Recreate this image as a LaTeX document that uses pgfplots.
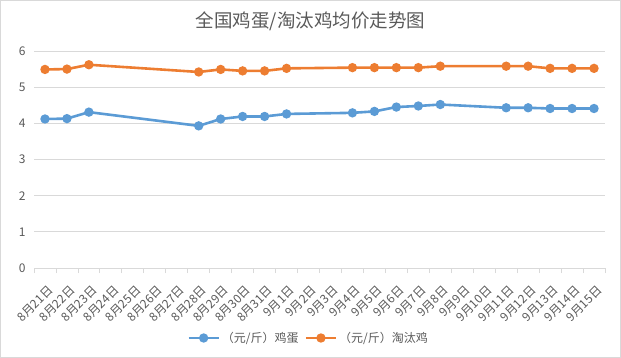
\documentclass[border=0pt]{standalone}
\usepackage{fontspec}
\setmainfont{Noto Sans CJK SC}
\usepackage{pgfplots}
\pgfplotsset{compat=1.18}
\definecolor{egg}{HTML}{5B9BD5}
\definecolor{hen}{HTML}{ED7D31}
\definecolor{gridgray}{HTML}{D9D9D9}
\definecolor{txt}{HTML}{595959}
\begin{document}
\begin{tikzpicture}
\useasboundingbox (0,0) rectangle (621bp,358bp);
\draw[gridgray, line width=0.8bp] (0.5bp,0.5bp) rectangle (620.5bp,357.5bp);
\node[text=txt, font=\fontsize{18.5bp}{22bp}\selectfont] at (310.5bp,337bp) {全国鸡蛋/淘汰鸡均价走势图};
\begin{axis}[
  at={(34bp,90bp)}, anchor=south west,
  scale only axis, width=571bp, height=217bp,
  xmin=-0.5, xmax=25.5, ymin=0, ymax=6,
  ytick={0,1,...,6},
  xtick={0,1,...,25},
  minor xtick={-0.5,0.5,...,25.5},
  xticklabels={8月21日,8月22日,8月23日,8月24日,8月25日,8月26日,8月27日,8月28日,8月29日,8月30日,8月31日,9月1日,9月2日,9月3日,9月4日,9月5日,9月6日,9月7日,9月8日,9月9日,9月10日,9月11日,9月12日,9月13日,9月14日,9月15日},
  axis x line*=bottom, axis y line*=left,
  x axis line style={draw=gridgray, line width=0.8bp, -},
  y axis line style={draw=none},
  ymajorgrids, grid style={draw=gridgray, line width=0.8bp},
  major tick length=0pt, minor tick length=5bp, tick align=outside,
  tick style={draw=gridgray, line width=0.8bp},
  /pgf/number format/assume math mode=true,
  tick label style={text=txt, font=\fontsize{12bp}{14bp}\selectfont},
  yticklabel style={xshift=-5bp},
  xticklabel style={yshift=-15bp, xshift=2bp, rotate=45, anchor=north east, inner sep=1bp},
  legend columns=2,
  legend style={draw=none, fill=none, at={(0.481,-0.3226)}, anchor=center,
    font=\fontsize{12bp}{14bp}\selectfont, text=txt,
    /tikz/every even column/.append style={column sep=4bp}},
  legend image code/.code={\draw[mark repeat=2,mark phase=2,#1] plot coordinates {(0bp,0bp) (15bp,0bp) (30bp,0bp)};},
  every axis plot/.append style={line width=2.6bp, mark=*, mark size=3.3bp, mark options={solid}},
  clip=false,
]
\addplot[egg, mark options={fill=egg, draw=egg}] coordinates {
(0,4.12) (1,4.13) (2,4.31) (7,3.93) (8,4.12) (9,4.19) (10,4.19) (11,4.26)
(14,4.29) (15,4.33) (16,4.45) (17,4.48) (18,4.52) (21,4.43) (22,4.43) (23,4.41) (24,4.41) (25,4.41)};
\addlegendentry{（元/斤）鸡蛋}
\addplot[hen, mark options={fill=hen, draw=hen}] coordinates {
(0,5.49) (1,5.50) (2,5.62) (7,5.42) (8,5.49) (9,5.45) (10,5.45) (11,5.52)
(14,5.54) (15,5.54) (16,5.54) (17,5.54) (18,5.58) (21,5.58) (22,5.58) (23,5.52) (24,5.52) (25,5.52)};
\addlegendentry{（元/斤）淘汰鸡}
\end{axis}
\end{tikzpicture}
\end{document}
